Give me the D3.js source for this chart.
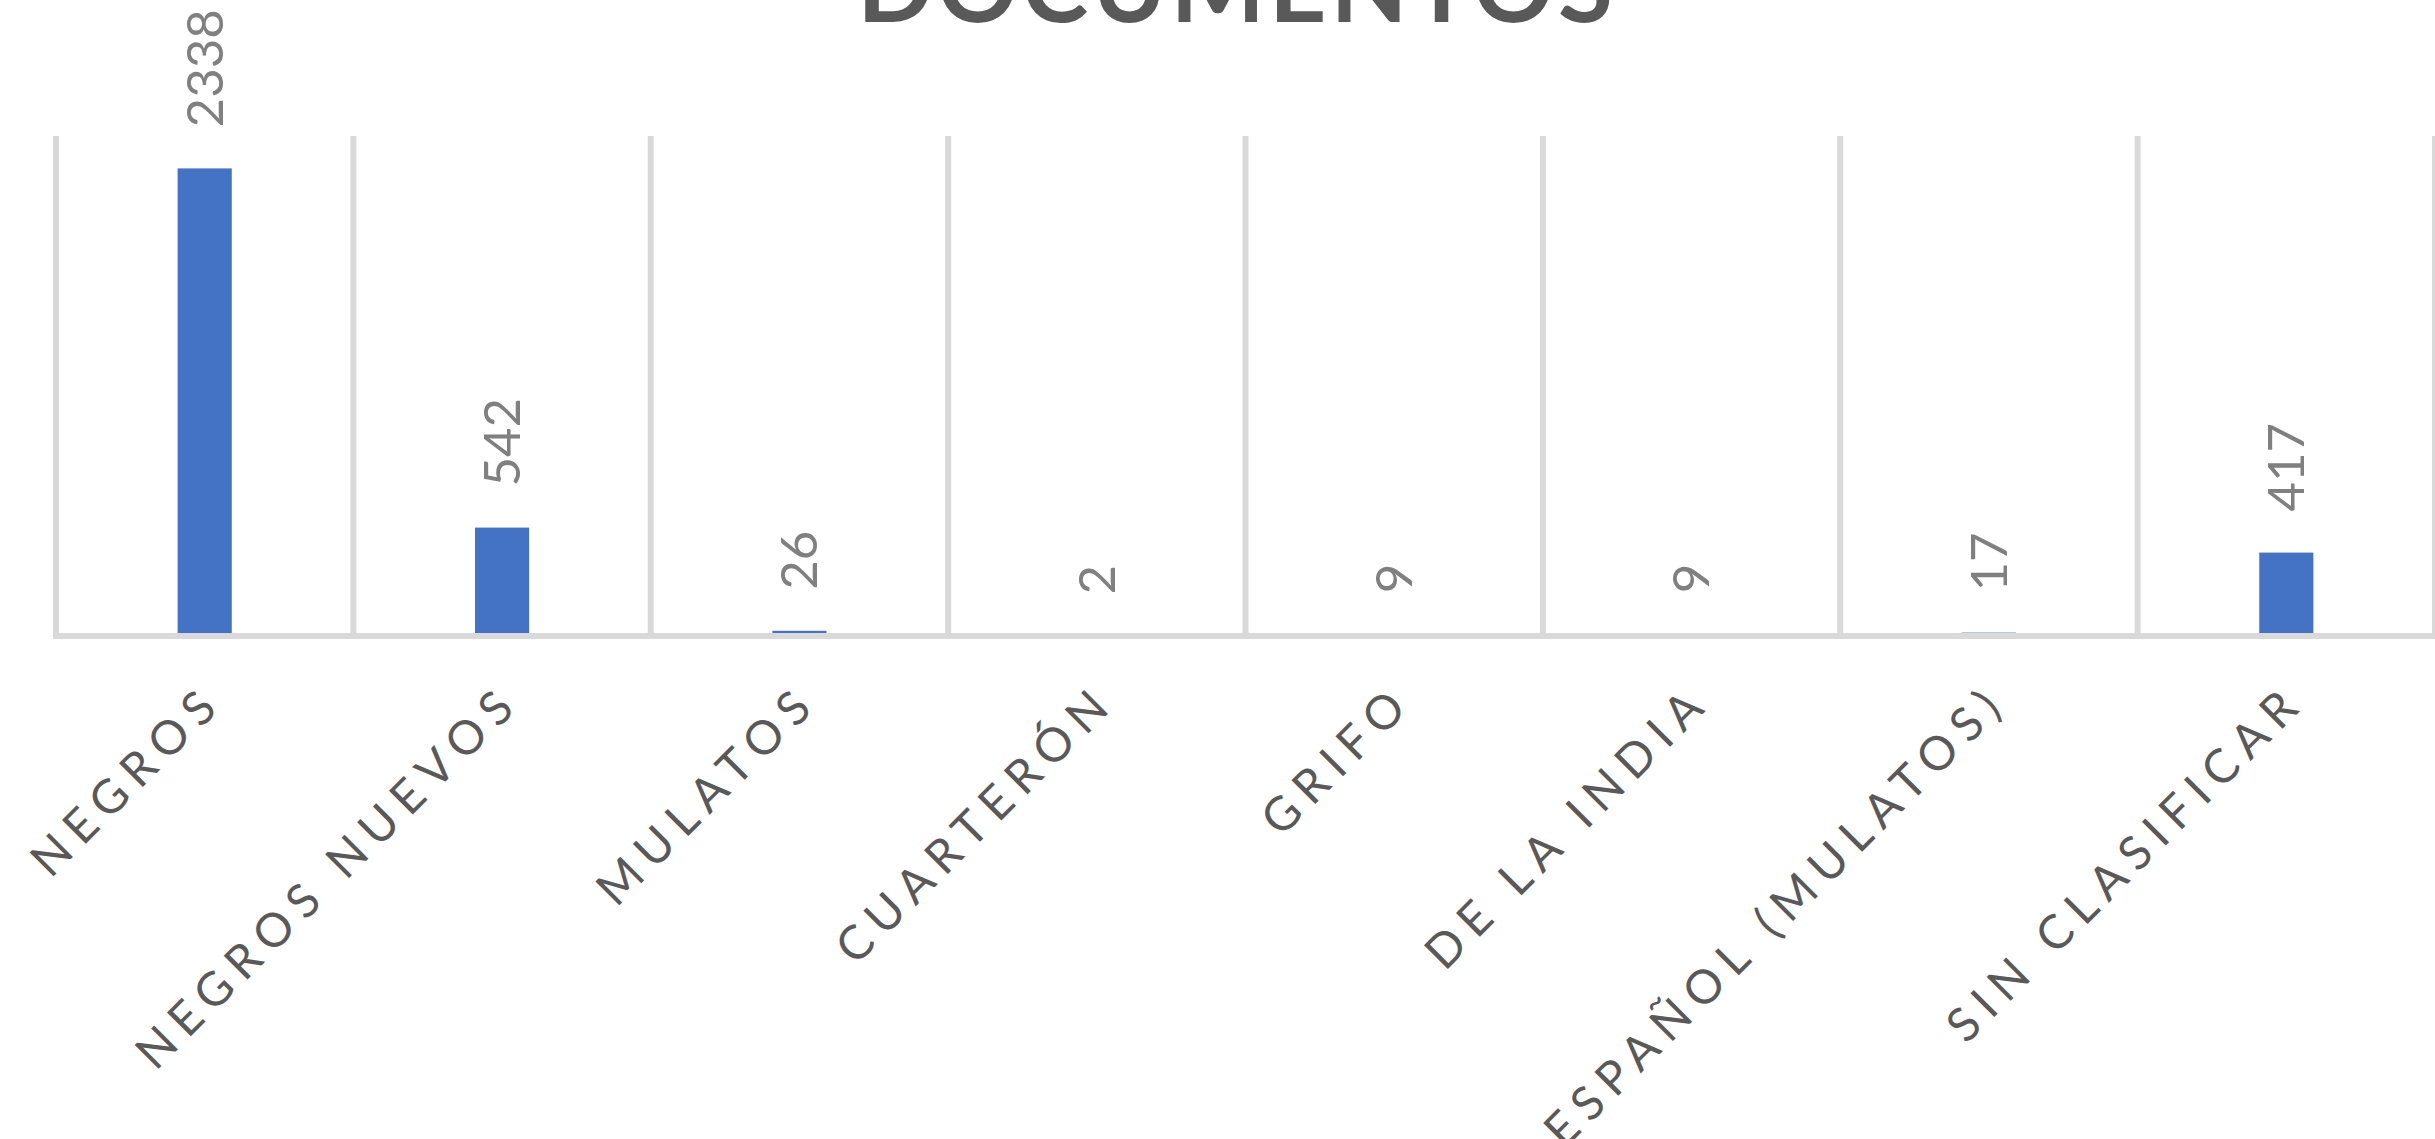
<!DOCTYPE html>
<html>
<head>
<meta charset="utf-8">
<script src="https://cdn.jsdelivr.net/npm/d3@7"></script>
<style>
  html, body { margin: 0; padding: 0; background: #fff; overflow: hidden; }
  svg { display: block; }
</style>
</head>
<body>
<script>
const categories = ["NEGROS", "NEGROS NUEVOS", "MULATOS", "CUARTERÓN", "GRIFO", "DE LA INDIA", "ESPAÑOL (MULATOS)", "SIN CLASIFICAR"];
const values = [2338, 542, 26, 2, 9, 9, 17, 417];
const title = "DOCUMENTOS";
const yMax = 2500;

const W = 2435, H = 1139;
const svg = d3.select("body").append("svg").attr("width", W).attr("height", H);
svg.append("rect").attr("width", W).attr("height", H).attr("fill", "#ffffff");

const plot = { left: 56, right: 2435, top: 136, bottom: 636 };

const x = d3.scaleBand().domain(categories).range([plot.left, plot.right]).paddingInner(0).paddingOuter(0);
const y = d3.scaleLinear().domain([0, yMax]).range([plot.bottom, plot.top]);
const barW = x.bandwidth() * 0.182;

// vertical gridlines at category boundaries
const bounds = categories.map(c => x(c)).concat([plot.right]);
svg.append("g").selectAll("line").data(bounds).join("line")
  .attr("x1", d => d).attr("x2", d => d)
  .attr("y1", y(yMax)).attr("y2", y(0))
  .attr("stroke", "#d9d9d9").attr("stroke-width", 6);

// bars
svg.append("g").selectAll("rect").data(categories).join("rect")
  .attr("x", (c) => x(c) + x.bandwidth() / 2 - barW / 2)
  .attr("width", barW)
  .attr("y", (c, i) => y(values[i]))
  .attr("height", (c, i) => y(0) - y(values[i]))
  .attr("fill", "#4472c4");

// baseline axis
const xAxis = d3.axisBottom(x).tickSize(0).tickFormat("");
const gx = svg.append("g").attr("transform", `translate(0,${y(0)})`).call(xAxis);
gx.select(".domain").attr("stroke", "#d9d9d9").attr("stroke-width", 6)
  .attr("d", `M${plot.left - 3},0H${plot.right}`);

// value labels
svg.append("g").selectAll("text").data(categories).join("text")
  .attr("transform", (c, i) => `translate(${x(c) + x.bandwidth() / 2},${y(values[i]) - 41}) rotate(-90)`)
  .attr("dy", "0.35em")
  .attr("text-anchor", "start")
  .attr("font-family", "Lato, 'Open Sans', sans-serif")
  .attr("font-size", 51)
  .attr("fill", "#808080")
  .text((c, i) => values[i]);

// category labels
svg.append("g").selectAll("text").data(categories).join("text")
  .attr("transform", c => `translate(${x(c) + x.bandwidth() / 2 + 21},${y(0) + 68}) rotate(-45)`)
  .attr("text-anchor", "end")
  .attr("font-family", "Lato, 'Open Sans', sans-serif")
  .attr("font-size", 47)
  .attr("letter-spacing", 9.8)
  .attr("fill", "#595959")
  .text(c => c);

// title (partially cut off at top, as in the reference)
svg.append("text")
  .attr("x", 1237).attr("y", 22)
  .attr("text-anchor", "middle")
  .attr("font-family", "Lato, 'Open Sans', sans-serif")
  .attr("font-weight", "bold")
  .attr("font-size", 100)
  .attr("letter-spacing", 4)
  .attr("fill", "#595959")
  .text(title);
</script>
</body>
</html>
